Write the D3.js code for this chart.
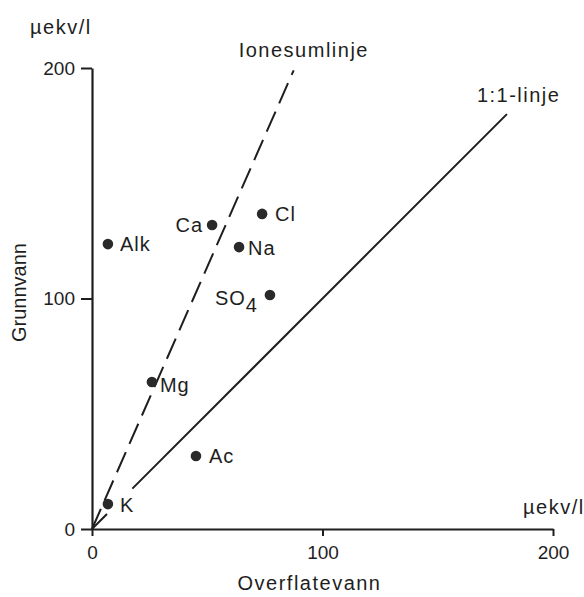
<!DOCTYPE html>
<html><head><meta charset="utf-8">
<script src="https://cdn.jsdelivr.net/npm/d3@7"></script>
<style>
body{margin:0;background:#fff;}
svg{display:block;font-family:"Liberation Sans",Arial,sans-serif;}
</style></head>
<body><svg id="c" width="584" height="597"></svg>
<script>
// ---- data ----
const ions = ["Alk","Ca","Cl","Na","SO4","Mg","Ac","K"];
const overflatevann = [6.9, 52.1, 73.8, 63.8, 77.2, 26.0, 45.1, 6.9];
const grunnvann     = [123.6, 131.9, 136.7, 122.3, 101.5, 63.8, 31.7, 10.8];
const xTicks = [0, 100, 200];
const yTicks = [0, 100, 200];
const ionesumX = [0, 87.5];
const ionesumY = [0, 199];
const oneToOneStart = [0, 17.5];
const oneToOneEnd   = [6.5, 180];

// ---- layout ----
const ink = "#1e1e1e";
const svg = d3.select("#c");
const x = d3.scaleLinear().domain([0,200]).range([92,553]);
const y = d3.scaleLinear().domain([0,200]).range([529,68]);

const labelPlace = {
  Alk:[12,0,"start"], Ca:[-9,0,"end"], Cl:[13,0,"start"], Na:[9,1,"start"],
  SO4:[-12,3,"end"], Mg:[8,3,"start"], Ac:[13,0,"start"], K:[12,1,"start"]
};

// axes
const gy = svg.append("g").attr("transform",`translate(${x(0)},0)`)
  .call(d3.axisLeft(y).tickValues(yTicks).tickSize(11).tickSizeOuter(0).tickPadding(6).tickFormat(d3.format("d")));
const gx = svg.append("g").attr("transform",`translate(0,${y(0)})`)
  .call(d3.axisBottom(x).tickValues(xTicks).tickSize(7).tickSizeOuter(0).tickPadding(10).tickFormat(d3.format("d")));
[gx,gy].forEach(g=>{
  g.select(".domain").attr("stroke",ink).attr("stroke-width",2.2);
  g.selectAll(".tick line").attr("stroke",ink).attr("stroke-width",2);
  g.selectAll(".tick text").attr("fill",ink).style("font-size","19px").style("font-family","Liberation Sans, Arial, sans-serif");
});

// lines
const line = d3.line().x(d=>x(d[0])).y(d=>y(d[1]));
svg.append("path")
  .attr("d", line(ionesumX.map((v,i)=>[v, ionesumY[i]])))
  .attr("fill","none").attr("stroke",ink).attr("stroke-width",2)
  .attr("stroke-dasharray","22,9");
oneToOneStart.forEach((s,i)=>{
  svg.append("path")
    .attr("d", line([[s,s],[oneToOneEnd[i],oneToOneEnd[i]]]))
    .attr("fill","none").attr("stroke",ink).attr("stroke-width",2);
});

// points
svg.selectAll("circle.pt").data(ions).join("circle")
  .attr("class","pt")
  .attr("cx",(d,i)=>x(overflatevann[i]))
  .attr("cy",(d,i)=>y(grunnvann[i]))
  .attr("r",5.3).attr("fill","#2a2a2a");

// point labels
const lab = svg.selectAll("text.lab").data(ions).join("text")
  .attr("class","lab")
  .attr("x",(d,i)=>x(overflatevann[i])+labelPlace[d][0])
  .attr("y",(d,i)=>y(grunnvann[i])+labelPlace[d][1])
  .attr("dy","0.35em")
  .attr("text-anchor",d=>labelPlace[d][2])
  .attr("fill",ink).style("font-size","20px").style("letter-spacing","1px");
lab.each(function(d){
  const t = d3.select(this);
  const m = d.match(/^([A-Za-z]+)(\d+)$/);
  if(m){
    t.append("tspan").text(m[1]);
    t.append("tspan").attr("dy","0.35em").text(m[2]);
  } else t.text(d);
});

// line labels
svg.append("text").attr("x", x(ionesumX[1])-55).attr("y", y(ionesumY[1])-13)
  .attr("fill",ink).style("font-size","20px").style("letter-spacing","1.5px").text("Ionesumlinje");
svg.append("text").attr("x", x(oneToOneEnd[1])-30).attr("y", y(oneToOneEnd[1])-12)
  .attr("fill",ink).style("font-size","20px").style("letter-spacing","1.5px").text("1:1-linje");

// unit labels
svg.append("text").attr("x",30).attr("y",34).attr("fill",ink)
  .style("font-size","20px").style("letter-spacing","1.5px").text("µekv/l");
svg.append("text").attr("x",523).attr("y",514).attr("fill",ink)
  .style("font-size","20px").style("letter-spacing","1.5px").text("µekv/l");

// axis titles
svg.append("text").attr("x",(x(0)+x(200))/2 - 13).attr("y",590).attr("text-anchor","middle")
  .attr("fill",ink).style("font-size","20px").style("letter-spacing","1.5px").text("Overflatevann");
svg.append("text").attr("transform",`translate(26,${(y(0)+y(200))/2 - 6}) rotate(-90)`)
  .attr("text-anchor","middle").attr("fill",ink).style("font-size","20px").text("Grunnvann");
</script></body></html>
